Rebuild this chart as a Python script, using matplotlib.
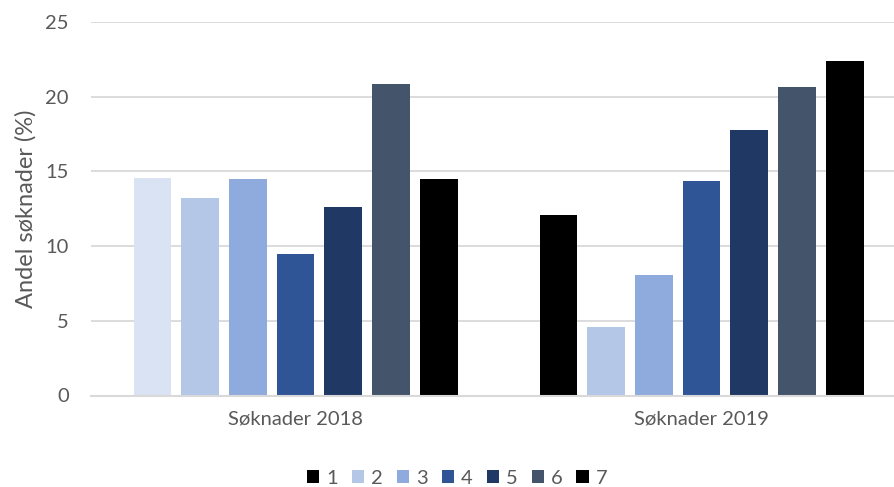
import matplotlib.pyplot as plt
import numpy as np
from matplotlib.patches import Patch

# Data
grupper = ["Søknader 2018", "Søknader 2019"]
serier = ["1", "2", "3", "4", "5", "6", "7"]
andel_2018 = [14.55, 13.25, 14.5, 9.5, 12.65, 20.85, 14.5]
andel_2019 = [12.1, 4.6, 8.05, 14.35, 17.8, 20.65, 22.4]

farger_2018 = ["#DAE3F3", "#B4C7E7", "#8FAADC", "#2F5597", "#203864", "#44546A", "#000000"]
farger_2019 = ["#000000", "#B4C7E7", "#8FAADC", "#2F5597", "#203864", "#44546A", "#000000"]
farger_legend = ["#000000", "#B4C7E7", "#8FAADC", "#2F5597", "#203864", "#44546A", "#000000"]

plt.rcParams['font.family'] = ['Lato', 'DejaVu Sans']
tekstfarge = "#595959"

fig = plt.figure(figsize=(8.94, 4.87), dpi=100)
ax = fig.add_axes([91 / 894, 1 - 395.5 / 487, 1 - 91 / 894, (395.5 - 22) / 487])

slot = 0.1175
bredde = 0.093
offs = (np.arange(len(serier)) - 3) * slot

for i in range(len(serier)):
    ax.bar(0 + offs[i], andel_2018[i], width=bredde, color=farger_2018[i], zorder=3)
    ax.bar(1 + offs[i], andel_2019[i], width=bredde, color=farger_2019[i], zorder=3)

ax.set_xlim(-0.504, 1.474)
ax.set_ylim(0, 25)
ax.set_yticks([0, 5, 10, 15, 20, 25])
ax.set_xticks([0, 1])
ax.set_xticklabels(grupper)
ax.yaxis.grid(True, color="#D9D9D9", linewidth=1.3, zorder=0)
ax.tick_params(axis='both', length=0, labelsize=14.5, colors=tekstfarge)
ax.tick_params(axis='y', pad=16)
ax.tick_params(axis='x', pad=11)
for s in ["left", "right", "top"]:
    ax.spines[s].set_visible(False)
ax.spines["bottom"].set_color("#D9D9D9")
ax.spines["bottom"].set_linewidth(1.5)
ax.spines["bottom"].set_zorder(4)

ax.set_ylabel("Andel søknader (%)", fontsize=17, color=tekstfarge, labelpad=6)

handles = [Patch(facecolor=c, label=l) for c, l in zip(farger_legend, serier)]
fig.legend(handles=handles, loc="center", bbox_to_anchor=(457 / 894, 1 - 478 / 487),
           ncol=7, frameon=False, fontsize=14.5, labelcolor=tekstfarge,
           handlelength=0.6, handleheight=0.6, handletextpad=0.35, columnspacing=0.7)

fig.savefig("out.png", dpi=100)
